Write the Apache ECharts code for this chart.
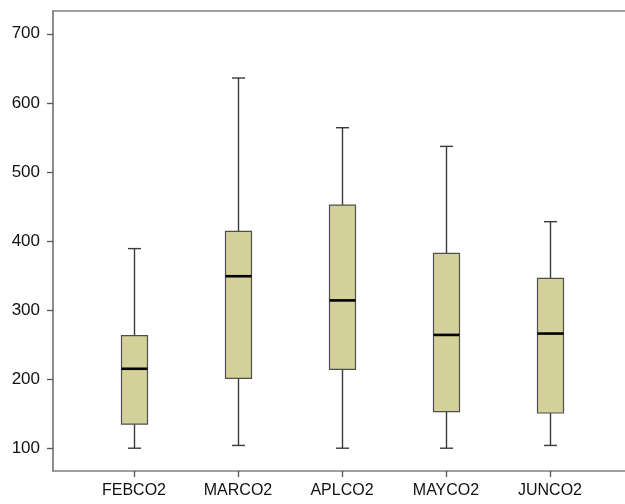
<!DOCTYPE html>
<html>
<head>
<meta charset="utf-8">
<script src="https://cdn.jsdelivr.net/npm/echarts@6/dist/echarts.min.js"></script>
<style>
  html, body { margin: 0; padding: 0; background: #fff; }
  #main { width: 625px; height: 504px; }
</style>
</head>
<body>
<div id="main"></div>
<script type="text/javascript">
  // values
  var categories = ['FEBCO2', 'MARCO2', 'APLCO2', 'MAYCO2', 'JUNCO2'];
  var whiskerLow = [100, 104, 100, 100, 104];
  var q1 = [135, 201, 214, 153, 151];
  var median = [215, 349, 314, 264, 266];
  var q3 = [263, 414, 452, 382, 346];
  var whiskerHigh = [389, 636, 564, 537, 428];
  var yTicks = [100, 200, 300, 400, 500, 600, 700];

  var boxData = [];
  for (var i = 0; i < categories.length; i++) {
    boxData.push([i, whiskerLow[i], q1[i], median[i], q3[i], whiskerHigh[i]]);
  }

  var lineColor = '#3a3a3a';
  var frameLine = { show: true, lineStyle: { color: '#808080', width: 1.6 } };

  function renderBox(params, api) {
    var x = api.value(0);
    var lo = api.coord([x, api.value(1)]);
    var b1 = api.coord([x, api.value(2)]);
    var md = api.coord([x, api.value(3)]);
    var b3 = api.coord([x, api.value(4)]);
    var hi = api.coord([x, api.value(5)]);
    var band = api.size([1, 0])[0];
    var bw = band * 0.25;
    var cw = band * 0.125;
    var cx = Math.round(lo[0]) + 0.5;
    var ws = { stroke: lineColor, lineWidth: 1.4 };
    return {
      type: 'group',
      children: [
        { type: 'line', shape: { x1: cx, y1: lo[1], x2: cx, y2: b1[1] }, style: ws },
        { type: 'line', shape: { x1: cx, y1: b3[1], x2: cx, y2: hi[1] }, style: ws },
        { type: 'line', shape: { x1: cx - cw / 2, y1: lo[1], x2: cx + cw / 2, y2: lo[1] }, style: ws },
        { type: 'line', shape: { x1: cx - cw / 2, y1: hi[1], x2: cx + cw / 2, y2: hi[1] }, style: ws },
        {
          type: 'rect',
          shape: { x: cx - bw / 2, y: b3[1], width: bw, height: b1[1] - b3[1] },
          style: { fill: '#d4d09a', stroke: '#4f4f4f', lineWidth: 1.2 }
        },
        {
          type: 'line',
          shape: { x1: cx - bw / 2, y1: md[1], x2: cx + bw / 2, y2: md[1] },
          style: { stroke: '#000', lineWidth: 2.6 }
        }
      ]
    };
  }

  var myChart = echarts.init(document.getElementById('main'));
  var option = {
    animation: false,
    backgroundColor: '#fff',
    grid: [
      { left: 53, top: 11, right: 0, bottom: 33 },
      { left: 82, width: 520, top: 11, bottom: 33 }
    ],
    xAxis: [
      {
        type: 'value', gridIndex: 0, position: 'bottom', min: 0, max: 1,
        axisLine: frameLine, axisTick: { show: false },
        axisLabel: { show: false }, splitLine: { show: false }
      },
      {
        type: 'value', gridIndex: 0, position: 'top', min: 0, max: 1,
        axisLine: frameLine, axisTick: { show: false },
        axisLabel: { show: false }, splitLine: { show: false }
      },
      {
        type: 'category',
        gridIndex: 1,
        data: categories,
        boundaryGap: true,
        axisLine: { show: false },
        axisTick: {
          show: true, alignWithLabel: true, length: 6,
          lineStyle: { color: '#555', width: 1.3 }
        },
        axisLabel: {
          margin: 12, color: '#111', fontSize: 16,
          fontFamily: 'Liberation Sans, Arial, sans-serif'
        }
      }
    ],
    yAxis: [
      {
        type: 'value',
        gridIndex: 0,
        min: 67,
        max: 733,
        axisLine: { show: true, lineStyle: { color: '#707070', width: 1.6 } },
        axisTick: {
          show: true, length: 6, customValues: yTicks,
          lineStyle: { color: '#555', width: 1.3 }
        },
        axisLabel: {
          customValues: yTicks,
          margin: 13, color: '#111', fontSize: 17,
          fontFamily: 'Liberation Sans, Arial, sans-serif'
        },
        splitLine: { show: false }
      },
      { type: 'value', gridIndex: 1, min: 67, max: 733, show: false }
    ],
    series: [
      {
        type: 'custom',
        xAxisIndex: 2,
        yAxisIndex: 1,
        renderItem: renderBox,
        encode: { x: 0, y: [1, 2, 3, 4, 5] },
        data: boxData
      }
    ]
  };
  myChart.setOption(option);
</script>
</body>
</html>
